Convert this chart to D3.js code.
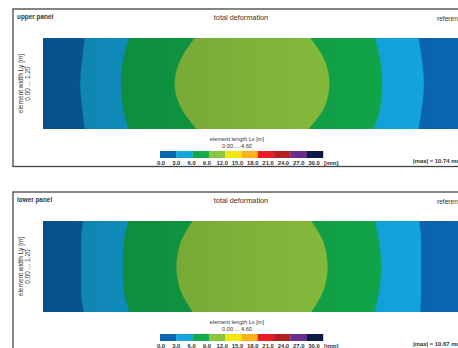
<!DOCTYPE html>
<html><head><meta charset="utf-8">
<script src="https://cdn.jsdelivr.net/npm/d3@7"></script>
<style>
html,body{margin:0;padding:0;background:#fff;overflow:hidden;}
svg{display:block;font-family:"Liberation Sans",Arial,sans-serif;}
</style></head>
<body>
<svg id="chart" width="458" height="348"></svg>
<script>
// ---- data ----
const panelNames = ["upper panel", "lower panel"];
const chartTitle = "total deformation";
const maxValues = [10.74, 10.67];           // |max| in mm
const lengthX = [0, 4.60];                   // element length Lx [m]
const widthY = [0, 1.20];                    // element width Ly [m]
const levels = [0, 3, 6, 9, 12, 15, 18, 21, 24, 27, 30];   // legend steps [mm]
const levelLabels = ["0.0","3.0","6.0","9.0","12.0","15.0","18.0","21.0","24.0","27.0","30.0"];
const levelColors = ["#0a66b0","#12a7e0","#12aa4a","#8cc63f","#f4e70d","#fbb117","#ed1c24","#b41f24","#6a2c91","#0b1b45"];
// y stations (m) at which iso-line positions were read
const yStations = [0, 0.3, 0.6, 0.9, 1.2];
// iso-line x positions (m) for 3, 6, 9 mm : left and right branch
const upperIsoLeft = [
  [0.46, 0.43, 0.41, 0.43, 0.46],
  [0.95, 0.88, 0.86, 0.88, 0.94],
  [1.67, 1.51, 1.45, 1.51, 1.69]
];
const upperIsoRight = [
  [4.13, 4.17, 4.19, 4.17, 4.13],
  [3.65, 3.71, 3.73, 3.71, 3.64],
  [2.94, 3.10, 3.15, 3.10, 2.92]
];
const lowerIsoLeft = [
  [0.44, 0.42, 0.42, 0.42, 0.45],
  [0.94, 0.89, 0.88, 0.89, 0.95],
  [1.65, 1.51, 1.47, 1.51, 1.65]
];
const lowerIsoRight = [
  [4.14, 4.16, 4.16, 4.16, 4.15],
  [3.65, 3.70, 3.72, 3.70, 3.65],
  [2.95, 3.09, 3.13, 3.09, 2.95]
];
const isoLeft = [upperIsoLeft, lowerIsoLeft];
const isoRight = [upperIsoRight, lowerIsoRight];

// ---- drawing ----
const svg = d3.select("#chart");
const defs = svg.append("defs");
const grad = defs.append("linearGradient").attr("id","shade").attr("x1","0").attr("x2","1").attr("y1","0").attr("y2","0");
grad.append("stop").attr("offset","0").attr("stop-color","#000").attr("stop-opacity",0.22);
grad.append("stop").attr("offset","0.5").attr("stop-color","#000").attr("stop-opacity",0.1);
grad.append("stop").attr("offset","1").attr("stop-color","#000").attr("stop-opacity",0.0);

const x = d3.scaleLinear().domain(lengthX).range([43, 461]);
const barX = d3.scaleLinear().domain([levels[0], levels[levels.length-1]]).range([160, 323]);
const labelX = d3.scalePoint().domain(levelLabels).range([161, 314]);
const textCol = "#333";

panelNames.forEach((name, p) => {
  const off = p * 183;
  const g = svg.append("g").attr("transform", `translate(0,${off})`);
  const y = d3.scaleLinear().domain(widthY).range([38, 129]);

  // frame
  g.append("rect").attr("x", 13).attr("y", 9).attr("width", 520).attr("height", 157.5)
    .attr("fill", "none").attr("stroke", "#444").attr("stroke-width", 1.3);

  g.append("text").attr("x", 17).attr("y", 19).attr("font-size", 6.4).attr("font-weight", "bold")
    .attr("fill", textCol).text(name);
  g.append("text").attr("x", 241).attr("y", 19.5).attr("font-size", 7.3).attr("text-anchor", "middle")
    .attr("fill", textCol).text(chartTitle);
  g.append("text").attr("x", 437).attr("y", 21).attr("font-size", 6.6)
    .attr("fill", textCol).text("reference system");

  // contour field
  const clipId = "clip" + p;
  defs.append("clipPath").attr("id", clipId).append("rect")
    .attr("x", x(lengthX[0])).attr("y", y(widthY[0]))
    .attr("width", x(lengthX[1]) - x(lengthX[0])).attr("height", y(widthY[1]) - y(widthY[0]));
  const field = g.append("g").attr("clip-path", `url(#${clipId})`);
  field.append("rect")
    .attr("x", x(lengthX[0])).attr("y", y(widthY[0]))
    .attr("width", x(lengthX[1]) - x(lengthX[0])).attr("height", y(widthY[1]) - y(widthY[0]))
    .attr("fill", levelColors[0]);
  const area = d3.area()
    .y(d => y(d.y)).x0(d => x(d.l)).x1(d => x(d.r))
    .curve(d3.curveMonotoneY);
  isoLeft[p].forEach((left, k) => {
    const pts = yStations.map((ys, i) => ({ y: ys, l: left[i], r: isoRight[p][k][i] }));
    field.append("path").attr("d", area(pts)).attr("fill", levelColors[k + 1])
      .attr("stroke", levelColors[k + 1]).attr("stroke-width", 0.3);
  });
  field.append("rect")
    .attr("x", x(lengthX[0])).attr("y", y(widthY[0]))
    .attr("width", x(lengthX[1]) - x(lengthX[0])).attr("height", y(widthY[1]) - y(widthY[0]))
    .attr("fill", "url(#shade)");

  // axis labels
  g.append("text").attr("x", 237).attr("y", 141).attr("font-size", 5.7).attr("text-anchor", "middle")
    .attr("fill", textCol).text("element length Lx [m]");
  g.append("text").attr("x", 237).attr("y", 147.5).attr("font-size", 5.7).attr("text-anchor", "middle")
    .attr("fill", textCol).text(`${lengthX[0].toFixed(2)} ... ${lengthX[1].toFixed(2)}`);
  const ym = (y(widthY[0]) + y(widthY[1])) / 2;
  g.append("text").attr("transform", `translate(23,${ym}) rotate(-90)`).attr("font-size", 6.5)
    .attr("text-anchor", "middle").attr("fill", textCol).text("element width Ly [m]");
  g.append("text").attr("transform", `translate(29.5,${ym}) rotate(-90)`).attr("font-size", 6.5)
    .attr("text-anchor", "middle").attr("fill", textCol).text(`${widthY[0].toFixed(2)} ... ${widthY[1].toFixed(2)}`);

  // color legend
  g.selectAll("rect.leg").data(levelColors).join("rect").attr("class", "leg")
    .attr("x", (d, i) => barX(levels[i])).attr("y", 151)
    .attr("width", (d, i) => barX(levels[i + 1]) - barX(levels[i]) + 0.2).attr("height", 7)
    .attr("fill", d => d);
  g.selectAll("text.legl").data(levelLabels).join("text").attr("class", "legl")
    .attr("x", d => labelX(d)).attr("y", 165.3).attr("font-size", 5.9).attr("font-weight", "bold")
    .attr("text-anchor", "middle").attr("fill", textCol).text(d => d);
  g.append("text").attr("x", 324).attr("y", 165.3).attr("font-size", 5.9).attr("font-weight", "bold")
    .attr("fill", textCol).text("[mm]");
  g.append("text").attr("x", 413).attr("y", 163).attr("font-size", 5.9).attr("font-weight", "bold")
    .attr("fill", textCol).text(`|max| = ${maxValues[p].toFixed(2)} mm`);
});
</script>
</body></html>
